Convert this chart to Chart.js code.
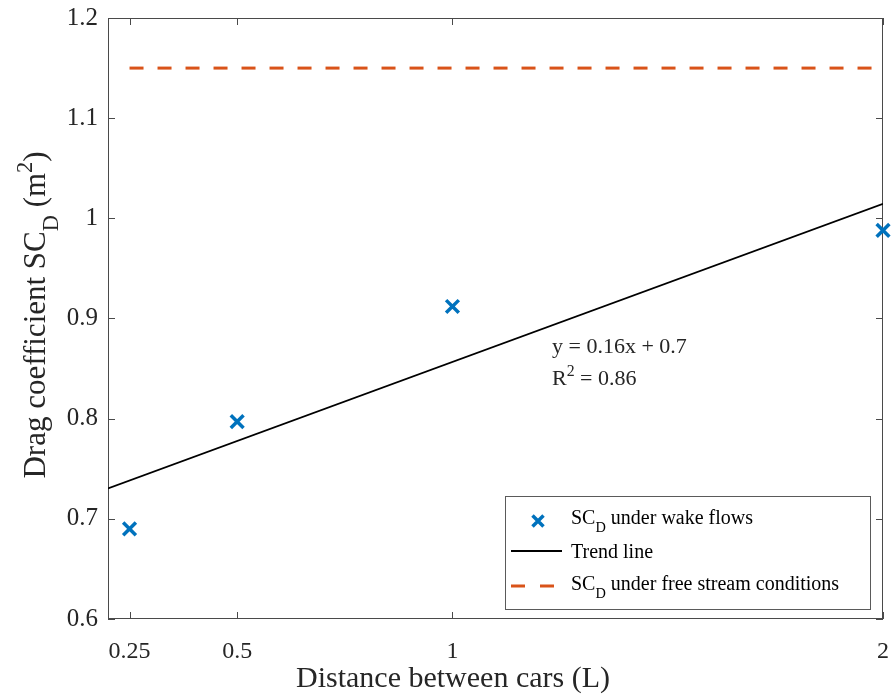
<!DOCTYPE html>
<html>
<head>
<meta charset="utf-8">
<script src="https://cdn.jsdelivr.net/npm/chart.js@4.4.1/dist/chart.umd.min.js"></script>
<style>
  html, body { margin: 0; padding: 0; background: #ffffff; }
  canvas { display: block; }
</style>
</head>
<body>
<canvas id="chart" width="891" height="695"></canvas>
<script>
// Measured drag area SC_D at each spacing (in car lengths L)
const distances = [0.25, 0.5, 1, 2];
const dragWake = [0.69, 0.797, 0.912, 0.988];
// Drag area of an isolated car in free stream
const freeStreamDrag = 1.15;
const freeStreamSpan = [0.25, 2];

const xTickValues = [0.25, 0.5, 1, 2];
const yTickValues = [0.6, 0.7, 0.8, 0.9, 1.0, 1.1, 1.2];
const xRange = [0.2, 2];
const yRange = [0.6, 1.2];

const equationText = 'y = 0.16x + 0.7';
const rSquaredText = ' = 0.86';

// Ordinary least-squares fit for the trend line
function linearFit(xs, ys) {
  const n = xs.length;
  const mx = xs.reduce((a, b) => a + b, 0) / n;
  const my = ys.reduce((a, b) => a + b, 0) / n;
  let sxy = 0, sxx = 0;
  for (let i = 0; i < n; i++) {
    sxy += (xs[i] - mx) * (ys[i] - my);
    sxx += (xs[i] - mx) * (xs[i] - mx);
  }
  const slope = sxy / sxx;
  return { slope, intercept: my - slope * mx };
}
const fit = linearFit(distances, dragWake);
const trendPoints = xRange.map(x => ({ x, y: fit.slope * x + fit.intercept }));

const SERIF = '"Liberation Serif", "DejaVu Serif", serif';
const TEXT = '#262626';
const AXIS = '#4a4a4a';
const BLUE = '#0072BD';
const ORANGE = '#D95319';

function fmt(v) { return String(Number(v.toFixed(2))); }

// Keep the plot box fixed: no extra room reserved for overhanging labels
function fixScale(size) {
  return s => {
    if (s.isHorizontal()) s.height = size; else s.width = size;
    s.paddingTop = s.paddingBottom = s.paddingLeft = s.paddingRight = 0;
  };
}

// Text runs where some pieces are sub- or superscripts
function richWidth(ctx, parts, size) {
  let w = 0;
  for (const p of parts) {
    const s = p.sub || p.sup ? size * 0.72 : size;
    ctx.font = s + 'px ' + SERIF;
    w += ctx.measureText(p.t).width;
  }
  return w;
}
function drawRich(ctx, parts, x, y, size) {
  ctx.textBaseline = 'alphabetic';
  ctx.textAlign = 'left';
  let cx = x;
  for (const p of parts) {
    const s = p.sub || p.sup ? size * 0.72 : size;
    ctx.font = s + 'px ' + SERIF;
    let dy = 0;
    if (p.sub) dy = size * 0.42;
    if (p.sup) dy = -size * 0.42;
    ctx.fillText(p.t, cx, y + dy);
    cx += ctx.measureText(p.t).width;
  }
  return cx;
}

const decorations = {
  id: 'decorations',
  beforeDatasetsDraw(chart) {
    const { ctx, chartArea: a, scales } = chart;
    ctx.save();
    ctx.strokeStyle = AXIS;
    ctx.lineWidth = 1;
    ctx.strokeRect(a.left + 0.5, a.top + 0.5, a.right - a.left - 1, a.bottom - a.top - 1);
    const tl = 7;
    ctx.beginPath();
    for (const v of xTickValues) {
      const px = Math.round(scales.x.getPixelForValue(v)) + 0.5;
      ctx.moveTo(px, a.bottom); ctx.lineTo(px, a.bottom - tl);
      ctx.moveTo(px, a.top); ctx.lineTo(px, a.top + tl);
    }
    for (const v of yTickValues) {
      const py = Math.round(scales.y.getPixelForValue(v)) + 0.5;
      ctx.moveTo(a.left, py); ctx.lineTo(a.left + tl, py);
      ctx.moveTo(a.right, py); ctx.lineTo(a.right - tl, py);
    }
    ctx.stroke();
    ctx.restore();
  },
  afterDraw(chart) {
    const { ctx } = chart;
    ctx.save();
    ctx.fillStyle = TEXT;

    // x axis title
    ctx.font = '30px ' + SERIF;
    ctx.textAlign = 'center';
    ctx.textBaseline = 'alphabetic';
    ctx.fillText('Distance between cars (L)', 453, 687);

    // y axis title, rotated
    const yParts = [
      { t: 'Drag coefficient SC' }, { t: 'D', sub: true }, { t: ' (m' }, { t: '2', sup: true }, { t: ')' }
    ];
    const ySize = 31;
    const yw = richWidth(ctx, yParts, ySize);
    ctx.save();
    ctx.translate(45, 315);
    ctx.rotate(-Math.PI / 2);
    drawRich(ctx, yParts, -yw / 2, 0, ySize);
    ctx.restore();

    // fitted equation annotation
    const an = 22;
    drawRich(ctx, [{ t: equationText }], 552, 353, an);
    drawRich(ctx, [{ t: 'R' }, { t: '2', sup: true }, { t: rSquaredText }], 552, 385, an);

    // legend
    const lx = 505, ly = 496, lw = 365, lh = 113;
    ctx.fillStyle = '#ffffff';
    ctx.fillRect(lx, ly, lw, lh);
    ctx.strokeStyle = '#5a5a5a';
    ctx.lineWidth = 1;
    ctx.strokeRect(lx + 0.5, ly + 0.5, lw, lh);

    const ls = 20;
    // marker entry
    ctx.strokeStyle = BLUE;
    ctx.lineWidth = 3.5;
    const mx = 538, my = 521, mr = 5.5;
    ctx.beginPath();
    ctx.moveTo(mx - mr, my - mr); ctx.lineTo(mx + mr, my + mr);
    ctx.moveTo(mx + mr, my - mr); ctx.lineTo(mx - mr, my + mr);
    ctx.stroke();
    // solid line entry
    ctx.strokeStyle = '#000000';
    ctx.lineWidth = 1.8;
    ctx.beginPath();
    ctx.moveTo(511, 551); ctx.lineTo(562, 551);
    ctx.stroke();
    // dashed entry
    ctx.strokeStyle = ORANGE;
    ctx.lineWidth = 3;
    ctx.setLineDash([14, 15]);
    ctx.beginPath();
    ctx.moveTo(511, 586); ctx.lineTo(562, 586);
    ctx.stroke();
    ctx.setLineDash([]);

    ctx.fillStyle = '#000000';
    drawRich(ctx, [{ t: 'SC' }, { t: 'D', sub: true }, { t: ' under wake flows' }], 571, 524, ls);
    drawRich(ctx, [{ t: 'Trend line' }], 571, 558, ls);
    drawRich(ctx, [{ t: 'SC' }, { t: 'D', sub: true }, { t: ' under free stream conditions' }], 571, 590, ls);

    ctx.restore();
  }
};

new Chart(document.getElementById('chart'), {
  data: {
    datasets: [
      {
        type: 'line',
        label: 'SC_D under free stream conditions',
        data: freeStreamSpan.map(x => ({ x, y: freeStreamDrag })),
        borderColor: ORANGE,
        borderWidth: 3,
        borderDash: [14, 14],
        pointRadius: 0,
        fill: false,
        order: 3
      },
      {
        type: 'line',
        label: 'Trend line',
        data: trendPoints,
        borderColor: '#000000',
        borderWidth: 1.8,
        pointRadius: 0,
        fill: false,
        order: 2
      },
      {
        type: 'scatter',
        label: 'SC_D under wake flows',
        data: distances.map((x, i) => ({ x, y: dragWake[i] })),
        pointStyle: 'crossRot',
        pointRadius: 9,
        pointBorderWidth: 3.5,
        borderColor: BLUE,
        backgroundColor: BLUE,
        clip: false,
        order: 1
      }
    ]
  },
  options: {
    responsive: false,
    animation: false,
    layout: { autoPadding: false, padding: { top: 18, right: 8, left: 0, bottom: 0 } },
    plugins: { legend: { display: false }, tooltip: { enabled: false } },
    scales: {
      x: {
        type: 'linear',
        min: xRange[0],
        max: xRange[1],
        afterBuildTicks: s => { s.ticks = xTickValues.map(v => ({ value: v })); },
        afterFit: fixScale(76),
        grid: { display: false, drawTicks: false },
        border: { display: false },
        ticks: {
          autoSkip: false, maxRotation: 0, padding: 18,
          color: TEXT, font: { family: SERIF, size: 24 },
          callback: v => fmt(v)
        }
      },
      y: {
        type: 'linear',
        min: yRange[0],
        max: yRange[1],
        afterBuildTicks: s => { s.ticks = yTickValues.map(v => ({ value: v })); },
        afterFit: fixScale(108),
        grid: { display: false, drawTicks: false },
        border: { display: false },
        ticks: {
          padding: 10,
          color: TEXT, font: { family: SERIF, size: 25 },
          callback: v => fmt(v)
        }
      }
    }
  },
  plugins: [decorations]
});
</script>
</body>
</html>
